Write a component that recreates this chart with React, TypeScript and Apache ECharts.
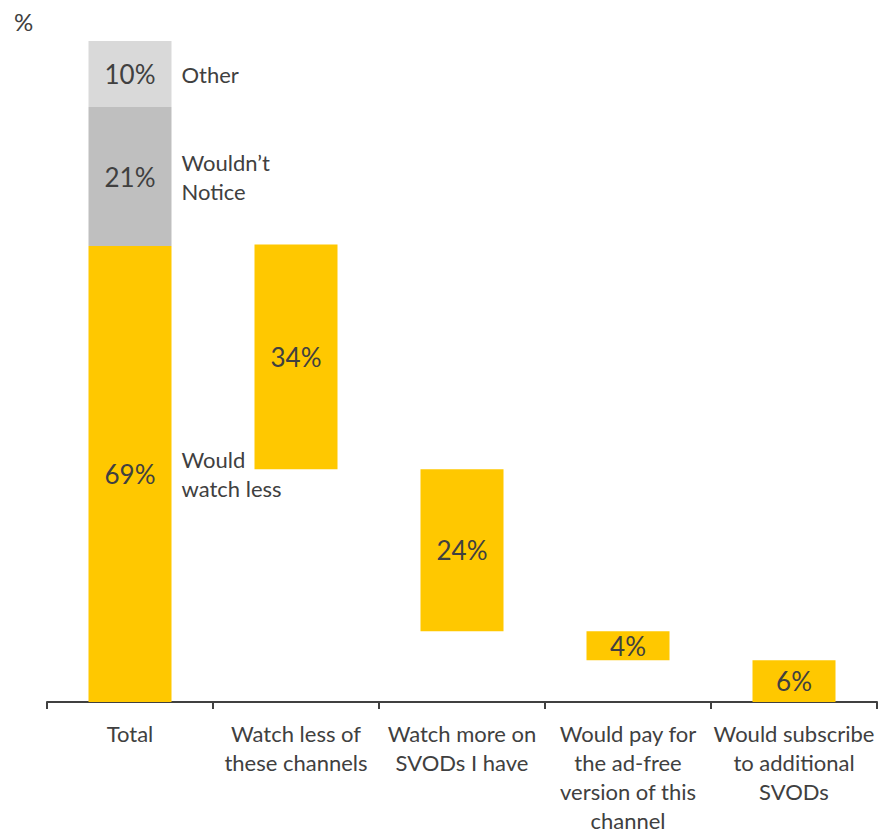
import React, { useEffect, useRef } from "react";
import * as echarts from "echarts";

const categories = [
  "Total",
  "Watch less of\nthese channels",
  "Watch more on\nSVODs I have",
  "Would pay for\nthe ad-free\nversion of this\nchannel",
  "Would subscribe\nto additional\nSVODs",
];
const baseValues = [0, 35.2, 10.7, 6.3, 0];
const watchLessValues = [69, 34, 24.5, 4.4, 6.3];
const watchLessLabels = ["69%", "34%", "24%", "4%", "6%"];
const wouldntNoticeValues = [21, null, null, null, null];
const otherValues = [10, null, null, null, null];
const segmentLabels = ["Would\nwatch less", "Wouldn\u2019t\nNotice", "Other"];
const segmentPctLabels = ["69%", "21%", "10%"];

const FONT = "Lato, 'Open Sans', sans-serif";
const TEXT = "#404040";

export default function App() {
  const ref = useRef<HTMLDivElement>(null);
  useEffect(() => {
    if (!ref.current) return;
    const chart = echarts.init(ref.current, undefined, { renderer: "svg" });
    const overlay = (vals: (number | null)[], name: string) => ({
      type: "bar",
      stack: "overlay",
      barWidth: "50%",
      barGap: "-100%",
      silent: true,
      itemStyle: { color: "rgba(0,0,0,0)" },
      label: {
        show: true,
        position: "right",
        distance: 10,
        formatter: () => name,
        color: TEXT,
        fontSize: 22,
        lineHeight: 29,
        fontFamily: FONT,
        align: "left",
      },
      data: vals,
    });
    chart.setOption({
      animation: false,
      textStyle: { fontFamily: FONT },
      grid: { left: 47, width: 830, top: 41, height: 667, containLabel: false },
      graphic: [
        {
          type: "text",
          left: 14,
          top: 9,
          style: { text: "%", fontSize: 24, fill: TEXT, fontFamily: FONT },
        },
      ],
      xAxis: {
        type: "category",
        data: categories,
        axisLine: { lineStyle: { color: TEXT, width: 2 } },
        axisTick: { show: true, length: 7, lineStyle: { color: TEXT, width: 2 } },
        axisLabel: {
          color: TEXT,
          fontSize: 22,
          lineHeight: 29,
          margin: 17,
          fontFamily: FONT,
          interval: 0,
        },
      },
      yAxis: { type: "value", min: 0, max: 100, show: false },
      series: [
        {
          type: "bar",
          stack: "main",
          barWidth: "50%",
          barGap: "-100%",
          silent: true,
          itemStyle: { color: "rgba(0,0,0,0)" },
          data: baseValues,
        },
        {
          type: "bar",
          stack: "main",
          barWidth: "50%",
          barGap: "-100%",
          itemStyle: { color: "#FFC800" },
          label: {
            show: true,
            position: "inside",
            formatter: (p: any) => watchLessLabels[p.dataIndex],
            color: TEXT,
            fontSize: 26,
            fontFamily: FONT,
          },
          data: watchLessValues,
        },
        {
          type: "bar",
          stack: "main",
          barWidth: "50%",
          barGap: "-100%",
          itemStyle: { color: "#BFBFBF" },
          label: {
            show: true,
            position: "inside",
            formatter: () => segmentPctLabels[1],
            color: TEXT,
            fontSize: 26,
            fontFamily: FONT,
          },
          data: wouldntNoticeValues,
        },
        {
          type: "bar",
          stack: "main",
          barWidth: "50%",
          barGap: "-100%",
          itemStyle: { color: "#D9D9D9" },
          label: {
            show: true,
            position: "inside",
            formatter: () => segmentPctLabels[2],
            color: TEXT,
            fontSize: 26,
            fontFamily: FONT,
          },
          data: otherValues,
        },
        overlay([watchLessValues[0], null, null, null, null], segmentLabels[0]),
        overlay([wouldntNoticeValues[0], null, null, null, null], segmentLabels[1]),
        overlay([otherValues[0], null, null, null, null], segmentLabels[2]),
      ],
    });
    return () => chart.dispose();
  }, []);
  return <div ref={ref} style={{ width: 878, height: 835, position: "absolute", left: 0, top: 0 }} />;
}
